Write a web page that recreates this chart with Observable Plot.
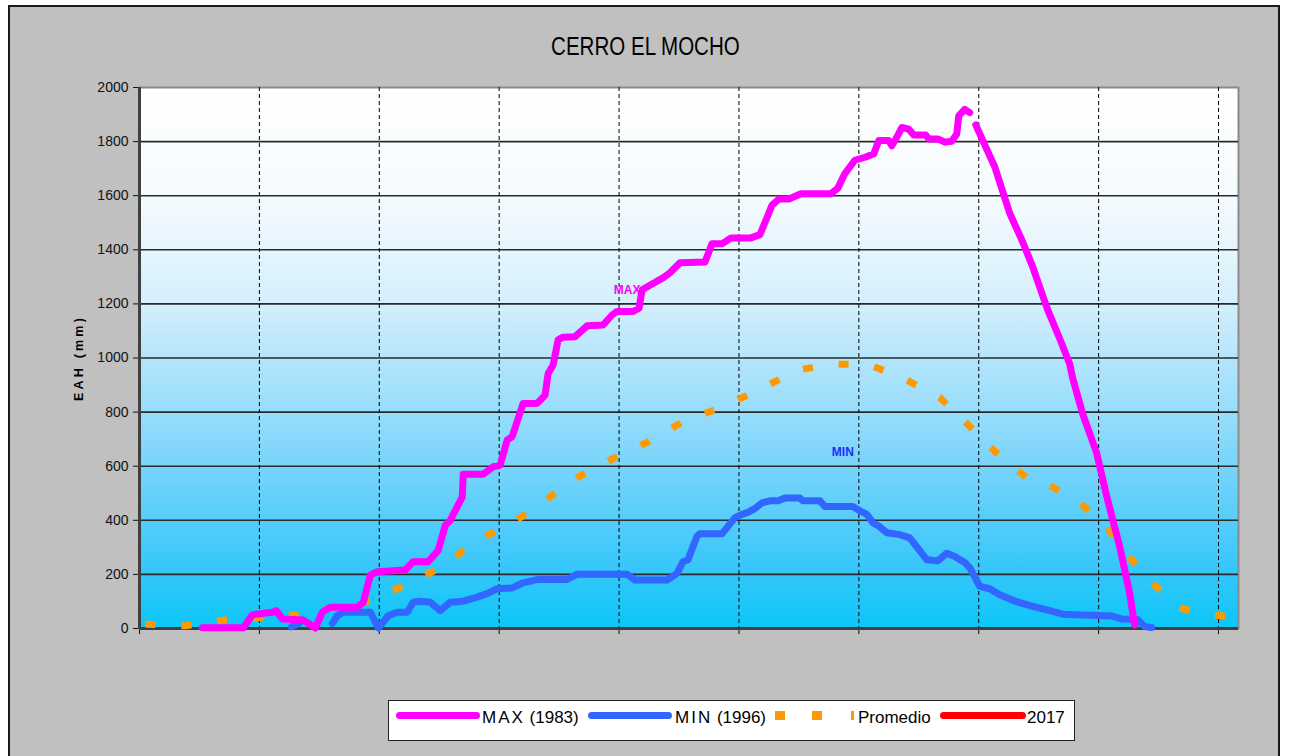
<!DOCTYPE html>
<html>
<head>
<meta charset="utf-8">
<script src="https://cdn.jsdelivr.net/npm/d3@7"></script>
<script src="https://cdn.jsdelivr.net/npm/@observablehq/plot@0.6"></script>
<style>
  html, body { margin: 0; padding: 0; background: #ffffff; }
  body { font-family: "Liberation Sans", Arial, sans-serif; }
  #wrap { position: relative; width: 1290px; height: 756px; overflow: hidden; }
  #panel { position: absolute; left: 8px; top: 5px; width: 1272px; height: 800px; background: #c0c0c0; border: 2px solid #1a1a1a; box-sizing: border-box; }
  #title { position: absolute; left: 0; width: 1290px; top: 30px; text-align: center; font-size: 26px; line-height: 32px; color: #000; }
  #title span { display: inline-block; transform: scaleX(0.79); transform-origin: center; }
  #ylab { position: absolute; left: 79px; top: 358px; font-size: 12.5px; font-weight: bold; letter-spacing: 3.2px; color: #000; white-space: nowrap; transform: translate(-50%, -50%) rotate(-90deg); }
  #chart { position: absolute; left: 0; top: 0; }
  #legend { position: absolute; left: 388px; top: 700px; width: 687px; height: 41px; background: #fff; border: 1.5px solid #222; box-sizing: border-box; }
  .sw { position: absolute; height: 7px; border-radius: 4px; top: 712px; }
  .sq { position: absolute; background: #ff9900; top: 711px; height: 9px; }
  .lt { position: absolute; top: 707px; font-size: 17px; line-height: 22px; color: #000; white-space: nowrap; }
  .sp { letter-spacing: 2px; }
</style>
</head>
<body>
<div id="wrap">
  <div id="panel"></div>
  <div id="title"><span>CERRO EL MOCHO</span></div>
  <div id="ylab">EAH (mm)</div>
  <div id="chart"></div>
  <div id="legend"></div>
  <div class="sw" style="left:396px;width:84px;background:#ff00ff"></div>
  <div class="lt" style="left:482px"><span class="sp">MAX</span> (1983)</div>
  <div class="sw" style="left:588px;width:84px;background:#3366ff"></div>
  <div class="lt" style="left:675px"><span class="sp">MIN</span> (1996)</div>
  <div class="sq" style="left:775px;width:10px"></div>
  <div class="sq" style="left:812px;width:10px"></div>
  <div class="sq" style="left:851px;width:3px"></div>
  <div class="lt" style="left:858px">Promedio</div>
  <div class="sw" style="left:940px;width:86px;background:#ff0000"></div>
  <div class="lt" style="left:1027px">2017</div>
</div>
<script>
// ---- data (day index since start of season, EAH in mm) ----
const maxDay = [15.75, 26, 28.25, 33.25, 34.25, 35.75, 41, 44, 45.75, 47.75, 54.5, 56, 57.75, 59.5, 66.5, 68.5, 72.25, 74.75, 76.5, 77.75, 80.75, 81, 86, 88.5, 90.25, 92, 93.25, 96, 99.5, 101.5, 102.25, 103.5, 104.75, 106, 109, 112, 116, 118.25, 119.5, 123.5, 125, 125.75, 129.5, 131, 132.75, 135.25, 141.5, 143.25, 145.75, 148, 153, 155.25, 156.5, 158.25, 160, 162.5, 165.5, 173, 174.75, 176.5, 179, 181.75, 183.75, 185, 187.5, 188.25, 189.5, 190.75, 192.5, 193.75, 196.75, 197.5, 199.75, 201.5, 203.25, 204.5, 205, 206.5, 207.75, 208.5, 209.25, 212.75, 214, 217.75, 221, 223.5, 227.25, 230.25, 232.75, 233.5, 236, 239.5, 242, 245.25, 247.75, 249];
const maxVal = [3, 3, 51, 60, 66, 35, 31, 2, 60, 79, 79, 97, 197, 210, 216, 247, 247, 289, 381, 400, 486, 570, 570, 598, 604, 696, 709, 832, 832, 863, 943, 974, 1067, 1077, 1079, 1119, 1122, 1159, 1172, 1172, 1184, 1252, 1284, 1296, 1315, 1352, 1355, 1422, 1422, 1444, 1444, 1456, 1501, 1564, 1588, 1588, 1607, 1607, 1628, 1682, 1731, 1743, 1755, 1804, 1804, 1785, 1816, 1852, 1846, 1824, 1824, 1810, 1810, 1798, 1801, 1828, 1895, 1919, 1907, null, 1862, 1747, 1707, 1535, 1429, 1337, 1178, 1072, 979, 926, 794, 649, 490, 304, 132, 13];

const minDay = [38, 40, 44, 48.25, 49.5, 51, 57.75, 59.75, 62.25, 64.5, 67, 68.5, 70.25, 72.75, 75.25, 77.75, 81, 84.5, 87, 89.5, 93.25, 96, 99.5, 107, 109.5, 122, 124, 132, 134.5, 136, 137.25, 139.5, 140.25, 145.75, 149, 150.75, 152.25, 154, 155.75, 157.75, 159.75, 161.5, 165.25, 166, 170.25, 171.5, 178.5, 180.25, 182, 183.5, 185.25, 187, 190.25, 192.75, 197, 199.75, 202, 204, 206.5, 207.75, 210.25, 212.75, 215.25, 219.5, 223.5, 227.75, 231, 236, 243.5, 245.75, 249.75, 251.5, 253.25];
const minVal = [6, 20, null, 19, 47, 60, 60, 2, 47, 60, 60, 97, 101, 97, 66, 97, 101, 116, 129, 147, 150, 169, 181, 181, 201, 201, 179, 179, 204, 247, 254, 341, 350, 350, 410, 422, 429, 444, 464, 472, 472, 482, 482, 472, 472, 451, 451, 435, 422, 391, 376, 354, 347, 335, 254, 250, 278, 266, 244, 225, 156, 147, 125, 99, 82, 66, 53, 50, 46, 35, 33, 7, 4];

const promDay = [1.5, 11.5, 21, 30.75, 39.75, 49, 58.5, 67, 76, 84, 92.75, 100.25, 109, 118.5, 127.25, 136, 145.25, 155.25, 164.5, 173.5, 182.25, 191, 200.25, 207.25, 214.5, 222.75, 227.75, 233.25, 240.75, 246.5, 253.5, 261, 270.75, 272.5];
const promVal = [16, 10, 31, 41, 51, 79, 104, 166, 229, 323, 385, 460, 554, 628, 690, 765, 815, 884, 955, 977, 977, 926, 854, 754, 648, 549, 529, 483, 404, 285, 165, 73, 46, 50];

const yTicks = [0, 200, 400, 600, 800, 1000, 1200, 1400, 1600, 1800, 2000];
const xTicks = [0, 30, 60, 90, 120, 150, 180, 210, 240, 270];
const seriesLabels = [{d: 122, v: 1252, t: "MAX", c: "#ff00ff"}, {d: 176, v: 652, t: "MIN", c: "#1a2cff"}];

const toRows = (ds, vs) => ds.map((d, i) => ({d, v: vs[i]}));
const maxRows = toRows(maxDay, maxVal);
const minRows = toRows(minDay, minVal);
const promRows = toRows(promDay, promVal);

const svg = Plot.plot({
  width: 1290,
  height: 756,
  marginLeft: 139,
  marginRight: 52,
  marginTop: 87,
  marginBottom: 128,
  style: {background: "transparent", fontFamily: "Liberation Sans, Arial, sans-serif", fontSize: "14px", color: "#111"},
  x: {domain: [0, 275], ticks: xTicks, tickSize: 6, tickFormat: () => "", label: null},
  y: {domain: [0, 2000], ticks: yTicks, tickSize: 6, tickPadding: 5, tickFormat: d => String(d), label: null},
  marks: [
    Plot.frame({fill: "url(#bg)", stroke: "#8a8a8a", strokeWidth: 2}),
    Plot.ruleY(yTicks.filter(t => t > 0 && t < 2000), {stroke: "#2a2a2a", strokeWidth: 1.6}),
    Plot.ruleX(xTicks.filter(t => t > 0), {stroke: "#000", strokeWidth: 1, strokeDasharray: "4,3"}),
    Plot.ruleX([0], {stroke: "#404040", strokeWidth: 3}),
    Plot.ruleY([0], {stroke: "#404040", strokeWidth: 3}),
    Plot.line(promRows, {x: "d", y: "v", stroke: "#ff9900", strokeWidth: 7, strokeDasharray: "10,26", strokeLinecap: "butt"}),
    Plot.line(minRows, {x: "d", y: "v", stroke: "#3366ff", strokeWidth: 7, strokeLinecap: "round", strokeLinejoin: "round"}),
    Plot.line(maxRows, {x: "d", y: "v", stroke: "#ff00ff", strokeWidth: 7, strokeLinecap: "round", strokeLinejoin: "round"}),
    Plot.text(seriesLabels, {x: "d", y: "v", text: "t", fill: "c", fontWeight: "bold", fontSize: 12, style: "letter-spacing:3px"})
  ]
});

const defs = d3.select(svg).insert("defs", ":first-child");
const grad = defs.append("linearGradient").attr("id", "bg").attr("x1", 0).attr("y1", 0).attr("x2", 0).attr("y2", 1);
[[0, "#ffffff"], [0.2, "#f5fbfe"], [0.4, "#d4effc"], [0.5, "#b4e5fb"], [0.6, "#97ddfb"], [0.7, "#78d4fa"], [0.8, "#55cdfa"], [0.9, "#33c6fa"], [1, "#0cc6f8"]]
  .forEach(([o, c]) => grad.append("stop").attr("offset", o).attr("stop-color", c));
document.getElementById("chart").appendChild(svg);
</script>
</body>
</html>
